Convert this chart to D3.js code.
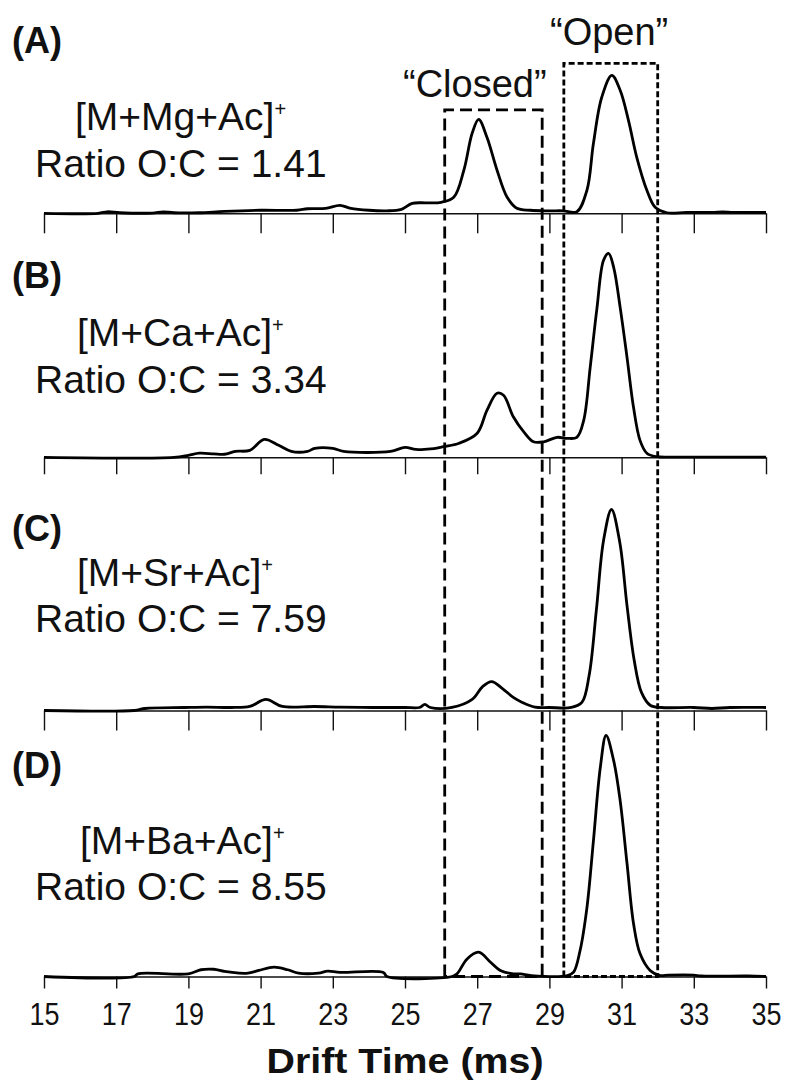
<!DOCTYPE html>
<html><head><meta charset="utf-8">
<script src="https://cdn.jsdelivr.net/npm/d3@7"></script>
<style>html,body{margin:0;padding:0;background:#fff;} svg{display:block;}</style>
</head><body><svg id="c" width="787" height="1085"></svg>
<script>
// ---------------- data ----------------
const driftA = [15, 16.5, 16.75, 17.1, 18.0, 18.3, 18.6, 19.3, 20.0, 21.0, 22.0, 22.3, 22.8, 23.2, 23.5, 24.0, 24.5, 24.9, 25.2, 25.6, 26.0, 26.35, 26.63, 26.86, 27.04, 27.27, 27.55, 27.83, 28.1, 28.47, 29.0, 29.38, 29.76, 30.04, 30.22, 30.45, 30.73, 30.96, 31.19, 31.42, 31.7, 31.93, 32.25, 32.8, 33.5, 33.8, 34.1, 35];
const intensityA = [0, 0, 1.1, 0.4, 0.2, 1.1, 0.4, 0.4, 1.4, 2.2, 2.2, 3.3, 3.6, 5.8, 3.6, 2.2, 1.8, 2.9, 7.2, 7.6, 8.0, 11.6, 31.2, 58.0, 68.1, 55.1, 31.2, 11.6, 3.6, 2.2, 1.8, 1.8, 1.1, 16.7, 50.7, 84.1, 100, 89.1, 67.4, 40.6, 16.7, 4.3, 0.4, 0.7, 0.7, 1.1, 0.7, 0.6];

const driftB = [15, 18.6, 19.0, 19.3, 19.7, 20.0, 20.3, 20.7, 21.1, 21.5, 21.85, 22.3, 22.5, 23.0, 23.3, 24.6, 25.0, 25.3, 25.8, 26.07, 26.5, 27.0, 27.27, 27.55, 27.73, 28.0, 28.29, 28.56, 28.84, 29.21, 29.49, 29.76, 29.95, 30.13, 30.32, 30.5, 30.64, 30.78, 30.96, 31.15, 31.33, 31.51, 31.7, 31.97, 32.5, 35];
const intensityB = [0, 0, 1.0, 2.0, 1.7, 1.5, 2.9, 3.4, 8.8, 5.9, 2.9, 2.9, 4.4, 4.4, 2.9, 2.9, 4.9, 3.9, 4.2, 5.2, 6.9, 11.8, 23.0, 31.4, 30.4, 19.9, 12.5, 7.6, 7.6, 9.8, 9.3, 9.8, 18.1, 44.1, 73.5, 96.6, 100, 93.1, 73.5, 49.0, 24.5, 8.3, 2.0, 0.3, 0.1, 0.1];

const driftC = [15, 17.5, 17.8, 18.9, 19.5, 20.2, 20.7, 21.15, 21.6, 22.5, 23.2, 24.1, 25.0, 25.4, 25.55, 25.7, 26.3, 26.86, 27.15, 27.4, 27.7, 28.0, 28.25, 28.6, 29.0, 29.6, 29.9, 30.1, 30.3, 30.5, 30.72, 30.95, 31.15, 31.35, 31.55, 31.8, 32.1, 33.0, 33.5, 34.0, 35];
const intensityC = [0, 0, 1.0, 1.5, 1.7, 1.5, 2.0, 5.5, 2.0, 2.0, 1.7, 1.5, 1.5, 1.5, 3.0, 1.5, 1.5, 5.5, 11.9, 14.4, 10.9, 6.5, 4.0, 1.7, 1.5, 1.5, 4.0, 17.4, 49.8, 84.6, 100, 83.6, 52.2, 24.9, 9.0, 2.5, 1.5, 1.5, 1.0, 1.5, 1.5];

const driftD = [15, 17.5, 17.6, 19.0, 19.35, 19.7, 20.0, 20.4, 20.65, 20.95, 21.37, 21.75, 22.05, 22.6, 22.86, 23.2, 24.4, 24.5, 26.3, 26.44, 26.72, 27.04, 27.37, 27.64, 28.0, 28.2, 28.5, 29.5, 29.67, 29.85, 30.04, 30.22, 30.41, 30.57, 30.78, 30.96, 31.15, 31.33, 31.51, 31.79, 32.07, 32.3, 33.0, 33.2, 34.5, 35];
const intensityD = [0, 0, 1.1, 1.1, 2.8, 3.0, 2.1, 1.4, 1.4, 2.5, 3.9, 2.8, 1.4, 1.4, 2.2, 1.7, 1.7, 0, 0, 1.1, 7.3, 10.1, 5.9, 2.5, 1.1, 1.1, 0.4, 0.4, 1.8, 10.8, 28.6, 56.4, 86.7, 100, 89.6, 73.0, 46.9, 22.0, 9.5, 2.5, 0.4, 0.6, 0.6, 0.2, 0.2, 0];

const panelLetters = ["(A)", "(B)", "(C)", "(D)"];
const ionLabels = ["[M+Mg+Ac]", "[M+Ca+Ac]", "[M+Sr+Ac]", "[M+Ba+Ac]"];
const ratios = ["1.41", "3.34", "7.59", "8.55"];
const tickValues = [15, 17, 19, 21, 23, 25, 27, 29, 31, 33, 35];
const tickLabels = ["15", "17", "19", "21", "23", "25", "27", "29", "31", "33", "35"];
const xDomain = [15, 35];
const closedWindow = [26.1, 28.8];
const openWindow = [29.4, 32.0];
const windowTops = [75, 108.7];           // in panel-A relative intensity
const windowNames = ["\u201CClosed\u201D", "\u201COpen\u201D"];
const xTitle = "Drift Time (ms)";

// ---------------- layout ----------------
const layout = [
  {base: 213.3, peak: 138, tick: 20, letterY: 53,  ionX: 75, ionY: 130, ratioY: 177},
  {base: 457.3, peak: 204, tick: 17, letterY: 288, ionX: 77, ionY: 346, ratioY: 393},
  {base: 710.5, peak: 201, tick: 20, letterY: 541, ionX: 77, ionY: 586, ratioY: 632},
  {base: 976.5, peak: 241, tick: 12, letterY: 778, ionX: 80, ionY: 854, ratioY: 900}
];
const FONT = "'Liberation Sans', Arial, Helvetica, sans-serif";

const svg = d3.select("#c");
svg.append("rect").attr("width", 787).attr("height", 1085).attr("fill", "#fff");

const x = d3.scaleLinear().domain(xDomain).range([44, 766]);

const series = [
  {drift: driftA, intensity: intensityA},
  {drift: driftB, intensity: intensityB},
  {drift: driftC, intensity: intensityC},
  {drift: driftD, intensity: intensityD}
];

const yScales = layout.map(l => d3.scaleLinear().domain([0, 100]).range([l.base, l.base - l.peak]));

// axes
layout.forEach((l, i) => {
  const isLast = i === layout.length - 1;
  const axis = d3.axisBottom(x).tickValues(tickValues).tickSize(l.tick).tickSizeOuter(0)
    .tickFormat((d, k) => isLast ? tickLabels[k] : "");
  const g = svg.append("g").attr("transform", `translate(0,${l.base})`).call(axis);
  g.select(".domain").attr("stroke", "#111").attr("stroke-width", 1.4);
  g.selectAll(".tick line").attr("stroke", "#111").attr("stroke-width", 1.4);
  g.selectAll(".tick text")
    .attr("font-family", FONT).attr("font-size", 32).attr("fill", "#111")
    .attr("dy", null).attr("y", 1025 - l.base)
    .attr("textLength", 30).attr("lengthAdjust", "spacingAndGlyphs");
});

// curves
const line = d3.line().curve(d3.curveCatmullRom.alpha(0.5));
series.forEach((s, i) => {
  const pts = s.drift.map((d, k) => [x(d), yScales[i](s.intensity[k])]);
  svg.append("path").attr("d", line(pts)).attr("fill", "none")
    .attr("stroke", "#000").attr("stroke-width", 2.8).attr("stroke-linejoin", "round");
});

// windows
const yBottom = yScales[3](0);
function windowBox(range, top, dash) {
  const yt = yScales[0](top);
  const path = d3.path();
  path.moveTo(x(range[0]), yBottom);
  path.lineTo(x(range[0]), yt);
  path.lineTo(x(range[1]), yt);
  path.lineTo(x(range[1]), yBottom);
  path.closePath();
  svg.append("path").attr("d", path.toString()).attr("fill", "none")
    .attr("stroke", "#000").attr("stroke-width", 2.8).attr("stroke-dasharray", dash);
}
windowBox(closedWindow, windowTops[0], "12,6");
windowBox(openWindow, windowTops[1], "6,3");

svg.append("text").attr("x", 403).attr("y", 97).text(windowNames[0])
  .attr("font-family", FONT).attr("font-size", 38).attr("fill", "#111");
svg.append("text").attr("x", 550).attr("y", 45).text(windowNames[1])
  .attr("font-family", FONT).attr("font-size", 38).attr("fill", "#111");

// labels
layout.forEach((l, i) => {
  svg.append("text").attr("x", 12).attr("y", l.letterY).text(panelLetters[i])
    .attr("font-family", FONT).attr("font-size", 36).attr("font-weight", "bold").attr("fill", "#111");
  const t = svg.append("text").attr("x", l.ionX).attr("y", l.ionY)
    .attr("font-family", FONT).attr("font-size", 39).attr("fill", "#111");
  t.append("tspan").text(ionLabels[i]);
  t.append("tspan").text("+").attr("font-size", 20).attr("dy", -14);
  svg.append("text").attr("x", 35).attr("y", l.ratioY).text("Ratio O:C = " + ratios[i])
    .attr("font-family", FONT).attr("font-size", 39).attr("fill", "#111");
});

svg.append("text").attr("x", 405).attr("y", 1073).attr("text-anchor", "middle")
  .text(xTitle).attr("font-family", FONT).attr("font-size", 35).attr("font-weight", "bold")
  .attr("fill", "#111").attr("textLength", 277).attr("lengthAdjust", "spacingAndGlyphs");
</script>
</body></html>
